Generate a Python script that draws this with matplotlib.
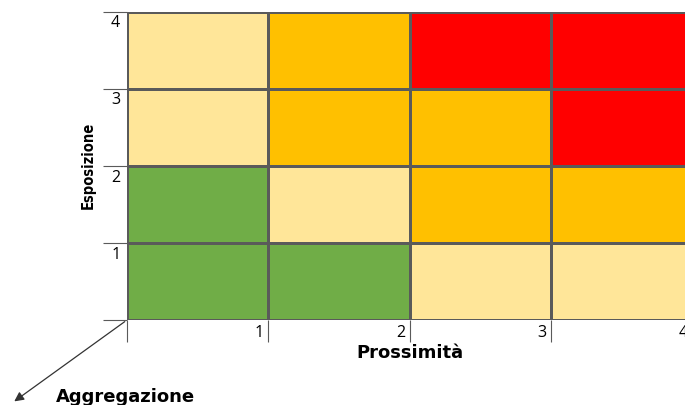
import numpy as np
import matplotlib.pyplot as plt
from matplotlib.colors import ListedColormap
from matplotlib.transforms import blended_transform_factory

# risk level per cell: rows = Esposizione 1..4 (bottom to top), cols = Prossimità 1..4
risk = np.array([
    [0, 0, 1, 1],
    [0, 1, 2, 2],
    [1, 2, 2, 3],
    [1, 2, 3, 3],
])
level_colors = ["#70AD47", "#FFE699", "#FFC000", "#FF0000"]
x_labels = ["1", "2", "3", "4"]
y_labels = ["1", "2", "3", "4"]

plt.rcParams["font.family"] = ["Open Sans", "DejaVu Sans"]

fig = plt.figure(figsize=(6.85, 4.05), dpi=100)
ax = fig.add_axes([127 / 685, 85 / 405, 565 / 685, 308.5 / 405])

ax.pcolormesh(np.arange(5), np.arange(5), risk, cmap=ListedColormap(level_colors),
              vmin=-0.5, vmax=3.5, edgecolors="#5a5a5a", linewidth=0.8)
ax.set_xlim(0, 4)
ax.set_ylim(0, 4)
for s in ax.spines.values():
    s.set_visible(False)

ax.set_xticks(range(5))
ax.set_yticks(range(5))
ax.tick_params(axis="x", length=16, width=0.8, color="#5a5a5a", labelbottom=False)
ax.tick_params(axis="y", length=17, width=0.8, color="#5a5a5a", labelleft=False)

# value labels: y at top of each row, x at right of each column
ty = blended_transform_factory(ax.transAxes, ax.transData)
for i, lab in enumerate(y_labels, start=1):
    ax.text(-0.012, i - 0.05, lab, transform=ty, ha="right", va="top", fontsize=11.5)
tx = blended_transform_factory(ax.transData, ax.transAxes)
for i, lab in enumerate(x_labels, start=1):
    ax.text(i - 0.03, -0.015, lab, transform=tx, ha="right", va="top", fontsize=11.5)

ax.text(-0.069, 0.5, "Esposizione", transform=ax.transAxes, rotation=90,
        ha="center", va="center", fontsize=10.5, fontweight="bold",
        family="DejaVu Sans", fontstretch="condensed")
ax.text(0.5, -0.107, "Prossimità", transform=ax.transAxes,
        ha="center", va="center", fontsize=13, fontweight="bold", family="DejaVu Sans")

ax.annotate("", xy=(12 / 685, 2 / 405), xycoords="figure fraction",
            xytext=(0, 0), textcoords="axes fraction",
            arrowprops=dict(arrowstyle="-|>", color="#333333", lw=0.9, mutation_scale=14))
fig.text(125 / 685, 8 / 405, "Aggregazione", ha="center", va="center",
         fontsize=13, fontweight="bold", family="DejaVu Sans")

fig.savefig("out.png", dpi=100)
